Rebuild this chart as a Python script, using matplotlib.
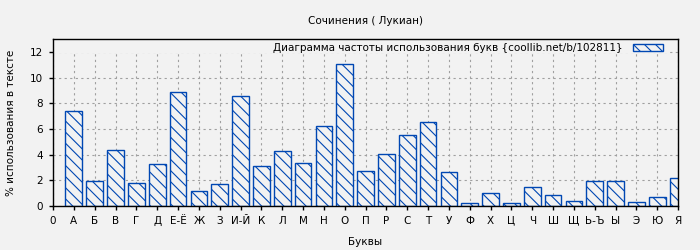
import numpy as np
import matplotlib
matplotlib.use('Agg')
import matplotlib.pyplot as plt
from matplotlib.patches import Rectangle

# Буквы и частоты (%)
letters = ['0', 'А', 'Б', 'В', 'Г', 'Д', 'Е-Ё', 'Ж', 'З', 'И-Й', 'К', 'Л', 'М', 'Н', 'О',
           'П', 'Р', 'С', 'Т', 'У', 'Ф', 'Х', 'Ц', 'Ч', 'Ш', 'Щ', 'Ь-Ъ', 'Ы', 'Э', 'Ю', 'Я']
bar_letters = letters[1:]
freq = [7.40, 1.93, 4.35, 1.77, 3.26, 8.88, 1.15, 1.70, 8.57, 3.10, 4.27, 3.33, 6.22, 11.07,
        2.71, 4.04, 5.52, 6.55, 2.63, 0.20, 0.99, 0.20, 1.46, 0.84, 0.37, 1.93, 1.93, 0.29,
        0.68, 2.16]
y_ticks = [0, 2, 4, 6, 8, 10, 12]

bg = '#f2f2f2'
blue = '#0047b3'

plt.rcParams['font.family'] = 'DejaVu Sans'
plt.rcParams['font.size'] = 7.5
plt.rcParams['hatch.color'] = blue
plt.rcParams['hatch.linewidth'] = 0.8

fig = plt.figure(figsize=(7, 2.5), dpi=100, facecolor=bg)
ax = fig.add_axes([0.0757, 0.176, 0.893, 0.668], facecolor=bg)

x = np.arange(1, len(bar_letters) + 1)
ax.bar(x, freq, width=0.8, facecolor=bg, edgecolor=blue, linewidth=1.0,
       hatch='\\\\\\', zorder=3,
       label='Диаграмма частоты использования букв {coollib.net/b/102811}')

ax.set_xlim(0, len(letters) - 1)
ax.set_ylim(0, 13)
ax.set_xticks(np.arange(len(letters)))
ax.set_xticklabels(letters)
ax.set_yticks(y_ticks)

ax.grid(True, color='#a0a0a0', linestyle=(0, (2, 3)), linewidth=0.8, zorder=0)
ax.set_axisbelow(True)

# фон под легендой закрывает сетку
ax.add_patch(Rectangle((0, 11.92), 29.6, 0.85, facecolor=bg, edgecolor='none', zorder=1))

for s in ax.spines.values():
    s.set_linewidth(1.0)
    s.set_zorder(5)
ax.tick_params(direction='out', length=3, width=1, pad=4, colors='black')

ax.set_title('Сочинения ( Лукиан)', fontsize=7.5, pad=11)
ax.set_xlabel('Буквы', fontsize=7.5, labelpad=8)
ax.set_ylabel('% использования в тексте', fontsize=7.5, labelpad=10)

leg = ax.legend(loc='upper right', bbox_to_anchor=(0.988, 1.018), frameon=False,
                markerfirst=False, handlelength=2.9, handleheight=0.58,
                handletextpad=1.0, fontsize=7.5, borderaxespad=0.3)

fig.savefig('out.png', dpi=100, facecolor=bg)
